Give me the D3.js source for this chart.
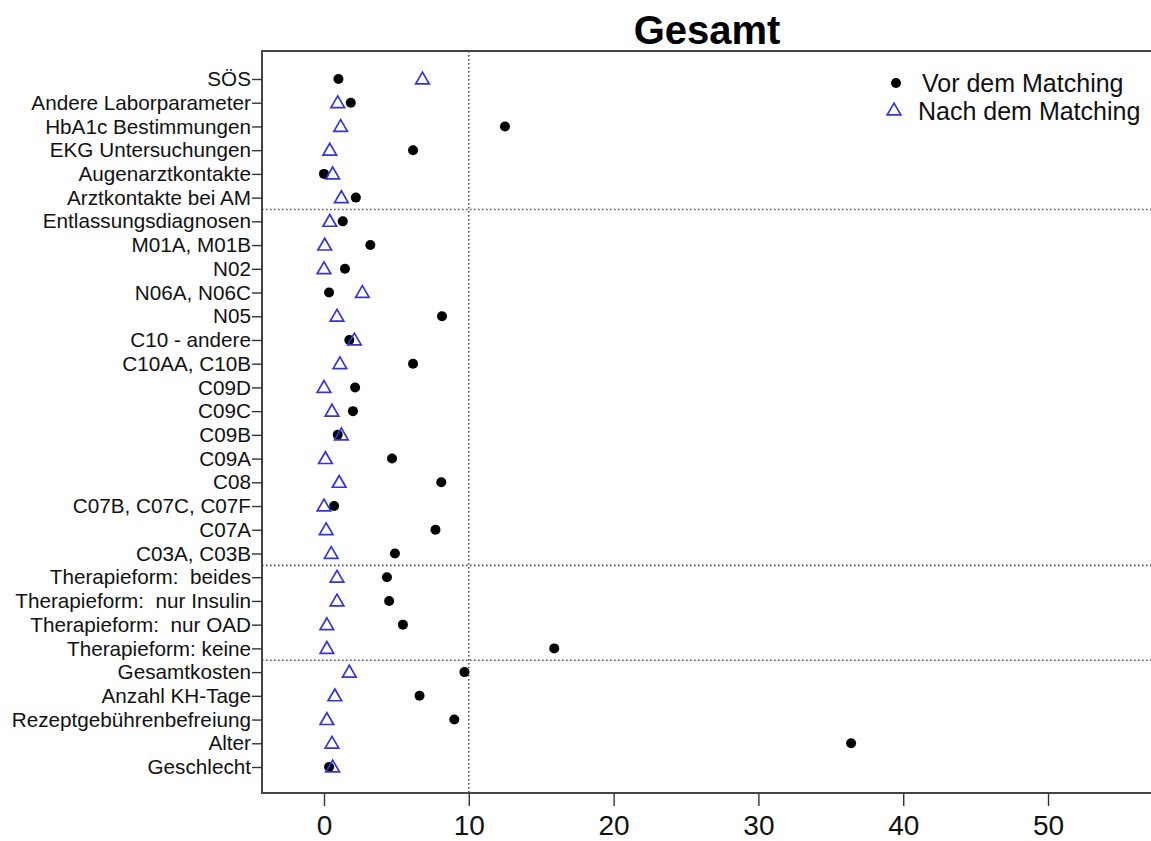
<!DOCTYPE html>
<html>
<head>
<meta charset="utf-8">
<script src="https://cdn.jsdelivr.net/npm/d3@7"></script>
<style>
  body { margin: 0; background: #fff; }
  svg { display: block; font-family: "Liberation Sans", Arial, sans-serif; }
  text { white-space: pre; }
</style>
</head>
<body>
<div id="chart"></div>
<script>
// rows, top to bottom
const categories = [
  'SÖS', 'Andere Laborparameter', 'HbA1c Bestimmungen', 'EKG Untersuchungen',
  'Augenarztkontakte', 'Arztkontakte bei AM', 'Entlassungsdiagnosen',
  'M01A, M01B', 'N02', 'N06A, N06C', 'N05', 'C10 - andere', 'C10AA, C10B',
  'C09D', 'C09C', 'C09B', 'C09A', 'C08', 'C07B, C07C, C07F', 'C07A',
  'C03A, C03B', 'Therapieform:  beides', 'Therapieform:  nur Insulin',
  'Therapieform:  nur OAD', 'Therapieform: keine', 'Gesamtkosten',
  'Anzahl KH-Tage', 'Rezeptgebührenbefreiung', 'Alter', 'Geschlecht'
]
// standardisierte Differenz vor dem Matching
const vorMatching = [
  1.0, 1.85, 12.5, 6.15, 0.0, 2.2, 1.3, 3.2, 1.45, 0.35, 8.15, 1.75, 6.15,
  2.15, 2.0, 0.95, 4.7, 8.1, 0.7, 7.7, 4.9, 4.35, 4.5, 5.45, 15.9, 9.7,
  6.6, 9.0, 36.4, 0.35
]
// nach dem Matching
const nachMatching = [
  6.8, 0.95, 1.15, 0.4, 0.6, 1.2, 0.4, 0.05, 0.0, 2.65, 0.9, 2.1, 1.1,
  0.0, 0.55, 1.2, 0.1, 1.05, 0.0, 0.15, 0.5, 0.9, 0.9, 0.2, 0.2, 1.75,
  0.75, 0.2, 0.55, 0.6
]
const xTicks = [0, 10, 20, 30, 40, 50]
const groupBreaks = [5, 20, 24] // dashed line below these rows
const refLine = 10
const legendLabels = ['Vor dem Matching', 'Nach dem Matching']

const width = 1151, height = 841
const box = {left: 262, top: 51, right: 1160, bottom: 793}

const svg = d3.select('#chart').append('svg')
  .attr('width', width)
  .attr('height', height)

const x = d3.scaleLinear()
  .domain([-4.28, 57.11])
  .range([box.left, 1151])

const y = d3.scalePoint()
  .domain(categories)
  .range([79, 767])

// title
svg.append('text')
  .attr('x', 707)
  .attr('y', 44)
  .attr('text-anchor', 'middle')
  .style('font-size', '40px')
  .style('font-weight', 'bold')
  .text('Gesamt')

// group separators
svg.selectAll('line.sep').data(groupBreaks)
  .enter().append('line')
  .attr('class', 'sep')
  .attr('x1', box.left).attr('x2', width)
  .attr('y1', d => (y(categories[d]) + y(categories[d + 1])) / 2)
  .attr('y2', d => (y(categories[d]) + y(categories[d + 1])) / 2)
  .attr('stroke', '#555')
  .attr('stroke-width', 1.6)
  .attr('stroke-dasharray', '1.6,2.4')

// vertical reference line at 10
svg.append('line')
  .attr('x1', x(refLine)).attr('x2', x(refLine))
  .attr('y1', box.top).attr('y2', box.bottom)
  .attr('stroke', '#555')
  .attr('stroke-width', 1.6)
  .attr('stroke-dasharray', '1.6,2.4')

// points before matching
svg.selectAll('circle.vor').data(vorMatching)
  .enter().append('circle')
  .attr('class', 'vor')
  .attr('cx', d => x(d))
  .attr('cy', (d, i) => y(categories[i]))
  .attr('r', 5)
  .attr('fill', '#000')

// triangles after matching
const tri = d3.symbol().type(d3.symbolTriangle).size(80)
svg.selectAll('path.nach').data(nachMatching)
  .enter().append('path')
  .attr('class', 'nach')
  .attr('d', tri)
  .attr('transform', (d, i) => `translate(${x(d)},${y(categories[i]) + 1})`)
  .attr('fill', 'none')
  .attr('stroke', '#3535d6')
  .attr('stroke-width', 1.7)

// box
svg.append('rect')
  .attr('x', box.left).attr('y', box.top)
  .attr('width', box.right - box.left)
  .attr('height', box.bottom - box.top)
  .attr('fill', 'none')
  .attr('stroke', '#444')
  .attr('stroke-width', 2)

// y axis
const yAxis = svg.append('g')
  .attr('transform', `translate(${box.left},0)`)
  .call(d3.axisLeft(y).tickSize(10).tickPadding(1))
yAxis.select('.domain').remove()
yAxis.selectAll('line').attr('stroke', '#333').attr('stroke-width', 1.4)
yAxis.selectAll('text')
  .style('font-size', '20.7px')
  .style('font-family', '"Liberation Sans", Arial, sans-serif')
  .attr('fill', '#111')

// x axis
const xAxis = svg.append('g')
  .attr('transform', `translate(0,${box.bottom + 1})`)
  .call(d3.axisBottom(x).tickValues(xTicks).tickSize(12).tickPadding(9))
xAxis.select('.domain').remove()
xAxis.selectAll('line').attr('stroke', '#333').attr('stroke-width', 1.4)
xAxis.selectAll('text')
  .style('font-size', '28px')
  .style('font-family', '"Liberation Sans", Arial, sans-serif')
  .attr('fill', '#111')

// legend
const legend = svg.append('g').attr('transform', 'translate(896,83)')
legend.append('circle').attr('cx', 0).attr('cy', 0).attr('r', 5).attr('fill', '#000')
legend.append('path')
  .attr('d', tri)
  .attr('transform', 'translate(-2,28)')
  .attr('fill', 'none')
  .attr('stroke', '#3535d6')
  .attr('stroke-width', 1.7)
legend.selectAll('text').data(legendLabels)
  .enter().append('text')
  .attr('x', (d, i) => i ? 22 : 26)
  .attr('y', (d, i) => i * 28 + 9)
  .style('font-size', '25px')
  .attr('fill', '#111')
  .text(d => d)
</script>
</body>
</html>
